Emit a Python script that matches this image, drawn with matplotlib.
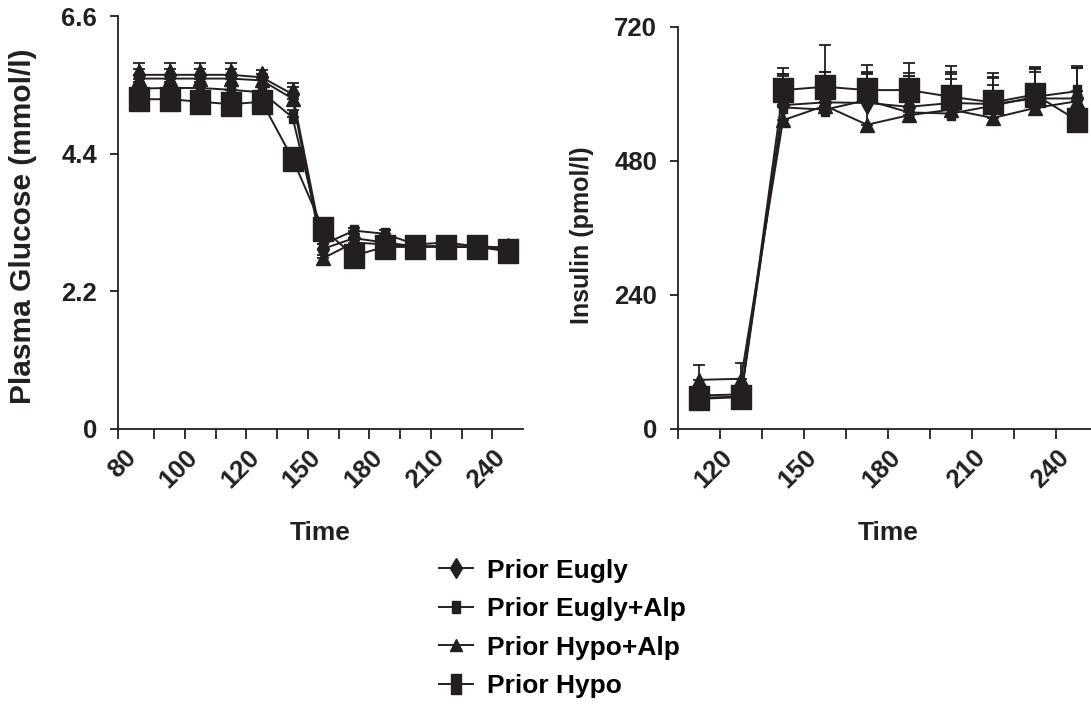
import matplotlib.pyplot as plt
from matplotlib.lines import Line2D
import numpy as np

plt.rcParams['font.family'] = ['Liberation Sans', 'DejaVu Sans']
plt.rcParams['font.weight'] = 'bold'

INK = '#231f20'

# glucose panel (category axis, minutes)
glu_times = ['80', '90', '100', '110', '120', '135', '150', '165', '180', '195', '210', '225', '240']
glu_eugly = [5.66, 5.66, 5.66, 5.66, 5.62, 5.35, 2.88, 3.05, 2.98, 2.92, 2.92, 2.90, 2.88]
glu_eugly_alp = [5.44, 5.45, 5.45, 5.42, 5.38, 4.98, 2.95, 3.17, 3.12, 2.95, 2.98, 2.92, 2.90]
glu_hypo_alp = [5.60, 5.60, 5.60, 5.60, 5.57, 5.28, 2.73, 2.98, 2.95, 2.92, 2.92, 2.92, 2.88]
glu_hypo = [5.27, 5.27, 5.23, 5.19, 5.23, 4.32, 3.19, 2.77, 2.91, 2.91, 2.91, 2.91, 2.84]
glu_eugly_err = [0.19, 0.19, 0.19, 0.19, 0.12, 0.18, 0.08, 0.06, 0.05, 0.05, 0.05, 0.05, 0.05]
glu_eugly_alp_err = [0.10, 0.10, 0.10, 0.10, 0.08, 0.12, 0.06, 0.05, 0.06, 0.05, 0.05, 0.05, 0.05]
glu_hypo_alp_err = [0.15, 0.15, 0.15, 0.15, 0.10, 0.18, 0.05, 0.05, 0.06, 0.05, 0.05, 0.05, 0.05]
glu_hypo_err = [0.08, 0.08, 0.08, 0.08, 0.08, 0.10, 0.08, 0.06, 0.06, 0.05, 0.05, 0.05, 0.05]

# insulin panel
ins_times = ['110', '120', '135', '150', '165', '180', '195', '210', '225', '240']
ins_eugly = [60, 62, 580, 585, 584, 577, 584, 582, 592, 592]
ins_eugly_alp = [54, 57, 576, 572, 589, 567, 565, 579, 595, 605]
ins_hypo_alp = [88, 90, 553, 579, 545, 562, 572, 557, 575, 587]
ins_hypo = [56, 58, 607, 613, 607, 607, 595, 585, 599, 553]
ins_eugly_err = [15, 15, 55, 55, 55, 60, 55, 55, 55, 55]
ins_eugly_alp_err = [10, 10, 60, 68, 48, 65, 70, 50, 45, 45]
ins_hypo_alp_err = [26, 28, 80, 60, 90, 70, 55, 60, 70, 60]
ins_hypo_err = [12, 12, 40, 75, 45, 48, 55, 45, 50, 40]

series_names = ['Prior Eugly', 'Prior Eugly+Alp', 'Prior Hypo+Alp', 'Prior Hypo']

rect_small = [(-0.4, -0.5), (0.4, -0.5), (0.4, 0.5), (-0.4, 0.5), (-0.4, -0.5)]
rect_big = [(-0.44, -0.5), (0.44, -0.5), (0.44, 0.5), (-0.44, 0.5), (-0.44, -0.5)]
rect_leg = [(-0.25, -0.5), (0.25, -0.5), (0.25, 0.5), (-0.25, 0.5), (-0.25, -0.5)]
markers = [('d', 11), (rect_small, 8), ('^', 10), (rect_big, 17)]
leg_markers = [('d', 10), (rect_small, 8), ('^', 9), (rect_leg, 14)]


def draw_panel(ax, labels, data, errs, ylim, yticks, ylabel, x0, ylabel_size,
               first_label, label_shift):
    x = np.arange(len(labels))
    for vals, err, (m, ms) in zip(data, errs, markers):
        ax.errorbar(x, vals, yerr=[np.zeros(len(err)), err], fmt='none',
                    ecolor=INK, elinewidth=1.3, capsize=4.5, capthick=1.3, zorder=2)
        ax.plot(x, vals, color=INK, lw=1.4, marker=m, ms=ms, mfc=INK, mec=INK, zorder=3)
    ax.set_xlim(x0, len(labels) - 0.5)
    ax.set_ylim(*ylim)
    ax.set_yticks(yticks)
    ax.set_yticklabels([str(t) for t in yticks])
    # every other category is labelled; labels sit a little left of the category
    shown = x[first_label::2]
    ax.set_xticks(shown - label_shift)
    ax.set_xticklabels([labels[i] for i in shown], rotation=45, ha='right',
                       va='center', rotation_mode='anchor')
    ax.set_xticks([x0] + list(x[:-1] + 0.5), minor=True)
    for s in ['top', 'right']:
        ax.spines[s].set_visible(False)
    for s in ['left', 'bottom']:
        ax.spines[s].set_linewidth(1.3)
        ax.spines[s].set_color(INK)
    ax.tick_params(axis='y', direction='out', length=6, width=1.3, pad=9,
                   labelsize=18.5, colors=INK)
    ax.tick_params(axis='x', which='major', length=0, pad=18, labelsize=18.5, colors=INK)
    ax.tick_params(axis='x', which='minor', direction='out', length=7, width=1.3, color=INK)
    ax.set_ylabel(ylabel, fontsize=ylabel_size, fontweight='bold', color=INK)
    ax.set_xlabel('Time', fontsize=19, fontweight='bold', color=INK)


fig = plt.figure(figsize=(10.91, 7.11), dpi=100)
W, H = 1091, 711

ax1 = fig.add_axes([118 / W, (H - 429) / H, 405 / W, 413 / H])
draw_panel(ax1, glu_times,
           [glu_eugly, glu_eugly_alp, glu_hypo_alp, glu_hypo],
           [glu_eugly_err, glu_eugly_alp_err, glu_hypo_alp_err, glu_hypo_err],
           (0, 6.6), [0, 2.2, 4.4, 6.6], 'Plasma Glucose (mmol/l)', -0.68, 21.5,
           0, 0.2)
ax1.xaxis.set_label_coords(0.5, -0.222)
ax1.yaxis.set_label_coords(-0.2, 0.49)

ax2 = fig.add_axes([678 / W, (H - 429) / H, 420 / W, 402 / H])
draw_panel(ax2, ins_times,
           [ins_eugly, ins_eugly_alp, ins_hypo_alp, ins_hypo],
           [ins_eugly_err, ins_eugly_alp_err, ins_hypo_alp_err, ins_hypo_err],
           (0, 720), [0, 240, 480, 720], 'Insulin (pmol/l)', -0.5, 18,
           1, 0.28)
ax2.xaxis.set_label_coords(0.5, -0.228)
ax2.yaxis.set_label_coords(-0.2, 0.483)

handles = [Line2D([], [], color=INK, lw=1.4, marker=m, ms=ms, mfc=INK, mec=INK)
           for m, ms in leg_markers]
fig.legend(handles, series_names, loc='upper left', bbox_to_anchor=(428 / W, 1 - 548 / H),
           frameon=False, prop={'size': 19, 'weight': 'bold'}, handlelength=1.3,
           handletextpad=0.55, labelspacing=0.55, borderaxespad=0)

fig.savefig('out.png', dpi=100)
